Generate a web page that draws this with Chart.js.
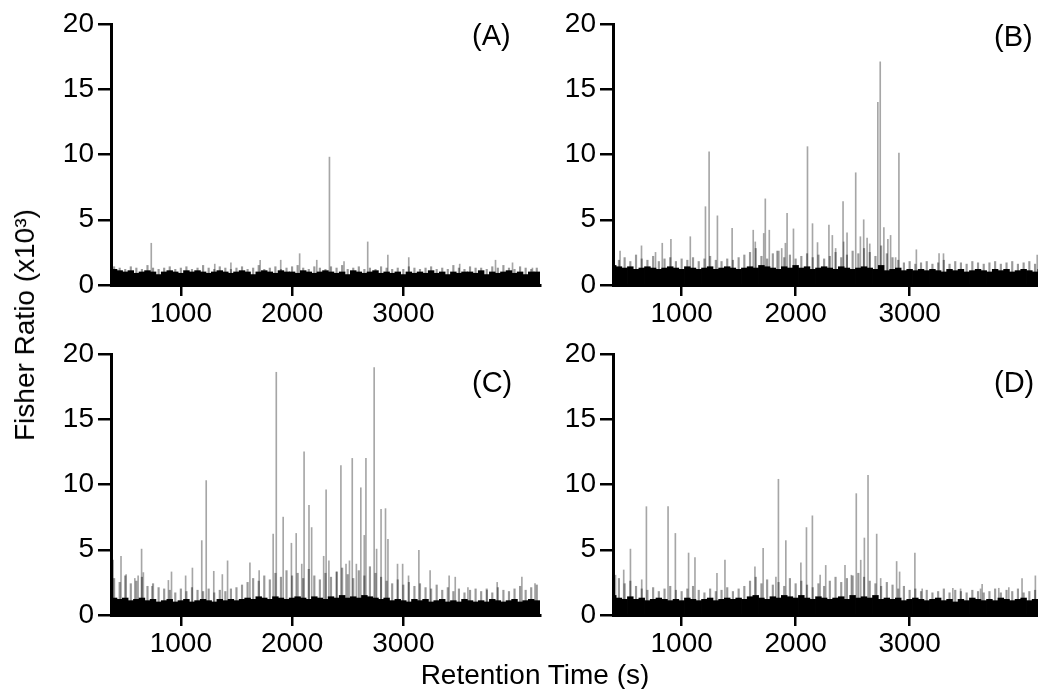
<!DOCTYPE html>
<html>
<head>
<meta charset="utf-8">
<script src="https://cdn.jsdelivr.net/npm/chart.js@4.4.1/dist/chart.umd.min.js"></script>
<style>
    body { margin: 0; width: 1038px; height: 689px; overflow: hidden; background: #fff; position: relative; }
    .panel { position: absolute; }
    .txt { position: absolute; font-family: "Liberation Sans", Arial, sans-serif; color: #000; line-height: 1; white-space: nowrap; }
    .tag { font-size: 29px; }
    .title { font-size: 28px; }
</style>
</head>
<body>
<div class="panel" style="left:0;top:0;width:545px;height:335px"><canvas id="chartA"></canvas></div>
<div class="panel" style="left:502px;top:0;width:541px;height:335px"><canvas id="chartB"></canvas></div>
<div class="panel" style="left:0;top:330px;width:545px;height:335px"><canvas id="chartC"></canvas></div>
<div class="panel" style="left:502px;top:330px;width:541px;height:335px"><canvas id="chartD"></canvas></div>

<div class="txt tag" style="left:472px;top:21px">(A)</div>
<div class="txt tag" style="left:994px;top:22px">(B)</div>
<div class="txt tag" style="left:472px;top:368px">(C)</div>
<div class="txt tag" style="left:994px;top:368px">(D)</div>

<div class="txt title" style="left:535px;top:661px;transform:translateX(-50%)">Retention Time (s)</div>
<div class="txt title" style="left:25px;top:325px;transform:translate(-50%,-50%) rotate(-90deg)">Fisher Ratio (x10³)</div>

<script>
// 軸の目盛り
const xTicks = [1000, 2000, 3000];
const yTicks = [0, 5, 10, 15, 20];

// ベースラインのノイズの時間 (s)
const noiseTimes = [
    400, 450, 500, 550, 600, 650, 700, 750, 800, 850, 900,
    950, 1000, 1050, 1100, 1150, 1200, 1250, 1300, 1350, 1400, 1450,
    1500, 1550, 1600, 1650, 1700, 1750, 1800, 1850, 1900, 1950, 2000,
    2050, 2100, 2150, 2200, 2250, 2300, 2350, 2400, 2450, 2500, 2550,
    2600, 2650, 2700, 2750, 2800, 2850, 2900, 2950, 3000, 3050, 3100,
    3150, 3200, 3250, 3300, 3350, 3400, 3450, 3500, 3550, 3600, 3650,
    3700, 3750, 3800, 3850, 3900, 3950, 4000, 4050, 4100, 4150, 4200,
];

// (A)
const baseA = [
    1.2, 1.1, 1.0, 1.1, 0.9, 1.0, 1.1, 1.0, 0.8, 1.0, 1.1,
    1.0, 0.9, 1.1, 1.0, 1.1, 1.0, 0.9, 1.0, 1.1, 1.0, 0.9,
    1.0, 1.1, 1.0, 0.8, 1.0, 1.1, 1.0, 0.9, 1.1, 1.0, 1.0,
    0.9, 1.1, 1.0, 0.9, 1.0, 1.1, 1.0, 0.9, 1.0, 0.8, 1.1,
    1.0, 0.9, 1.0, 1.1, 0.9, 1.0, 0.9, 1.0, 0.8, 1.0, 0.9,
    1.0, 0.9, 1.1, 0.9, 1.0, 0.8, 1.0, 0.9, 1.0, 1.0, 0.9,
    1.1, 0.8, 1.0, 0.9, 1.0, 1.1, 0.9, 1.0, 0.8, 1.0, 1.0,
];
const fringeA = [
    1.4, 1.3, 1.2, 1.4, 1.3, 1.2, 1.5, 1.3, 1.2, 1.3, 1.4,
    1.2, 1.3, 1.4, 1.2, 1.3, 1.5, 1.3, 1.2, 1.4, 1.3, 1.2,
    1.3, 1.4, 1.2, 1.3, 1.5, 1.2, 1.3, 1.4, 1.2, 1.3, 1.4,
    1.5, 1.3, 1.2, 1.4, 1.3, 1.2, 1.4, 1.3, 1.5, 1.2, 1.3,
    1.4, 1.2, 1.3, 1.2, 1.4, 1.3, 1.2, 1.3, 1.2, 1.4, 1.3,
    1.2, 1.3, 1.4, 1.2, 1.3, 1.2, 1.5, 1.3, 1.2, 1.4, 1.3,
    1.3, 1.2, 1.4, 1.3, 1.5, 1.3, 1.2, 1.4, 1.3, 1.2, 1.3,
];
const peakTimesA = [734, 1305, 1450, 1713, 1898, 2068, 2222, 2336, 2467, 2680, 2861, 3049, 3507, 3829, 3982, 4161];
const peakValuesA = [3.2, 1.6, 1.7, 1.9, 1.9, 2.4, 1.9, 9.8, 1.8, 3.3, 2.3, 2.1, 1.6, 1.9, 1.7, 1.3];

// (B)
const baseB = [
    1.5, 1.4, 1.3, 1.4, 1.2, 1.3, 1.4, 1.3, 1.2, 1.3, 1.4,
    1.3, 1.2, 1.4, 1.3, 1.2, 1.3, 1.4, 1.2, 1.3, 1.4, 1.3,
    1.2, 1.3, 1.4, 1.3, 1.5, 1.4, 1.3, 1.2, 1.4, 1.3, 1.5,
    1.3, 1.4, 1.2, 1.3, 1.4, 1.3, 1.2, 1.4, 1.3, 1.2, 1.3,
    1.4, 1.3, 1.2, 1.5, 1.1, 1.2, 1.3, 1.1, 1.2, 1.1, 1.2,
    1.1, 1.2, 1.1, 1.0, 1.2, 1.1, 1.2, 1.0, 1.1, 1.2, 1.1,
    1.0, 1.2, 1.1, 1.2, 1.0, 1.1, 1.2, 1.1, 1.0, 1.2, 1.1,
];
const fringeB = [
    2.2, 1.9, 2.1, 1.8, 2.3, 2.0, 1.9, 2.2, 1.8, 2.0, 2.1,
    1.8, 2.0, 1.9, 2.1, 1.8, 2.0, 2.2, 1.9, 1.8, 2.0, 1.9,
    2.1, 2.3, 2.5, 2.8, 2.2, 2.0, 2.4, 2.6, 2.1, 2.3, 2.0,
    2.2, 2.4, 2.1, 2.3, 2.0, 2.2, 2.5, 2.1, 2.3, 2.6, 2.4,
    2.8, 2.5, 2.2, 3.0, 2.4, 2.1, 1.9, 1.7, 1.8, 1.6, 1.7,
    1.8, 1.6, 1.7, 1.9, 1.6, 1.8, 1.7, 1.6, 1.8, 1.7, 1.6,
    1.7, 1.8, 1.6, 1.7, 1.8, 1.6, 1.7, 1.8, 1.6, 1.7, 1.8,
];
const peakTimesB = [
    460, 648, 771, 830, 906, 1076, 1209, 1241, 1314, 1443, 1628, 1646, 1720, 1734, 1769,
    1837, 1878, 1910, 1925, 1981, 2104, 2148, 2192, 2292, 2322, 2351, 2416, 2421, 2451,
    2527, 2568, 2597, 2627, 2650, 2721, 2742, 2774, 2809, 2833, 2877, 2906, 3059, 3258,
    3297, 4119,
];
const peakValuesB = [
    2.6, 3.0, 2.5, 3.2, 3.5, 3.7, 6.0, 10.2, 5.3, 4.35, 4.2, 3.3, 3.95, 6.6, 4.2,
    2.6, 2.8, 3.2, 5.5, 4.3, 10.6, 4.7, 3.25, 4.6, 3.8, 2.8, 6.4, 3.3, 4.0,
    8.6, 3.7, 5.0, 3.6, 3.15, 14.0, 17.1, 4.4, 3.5, 3.8, 2.1, 10.1, 2.7, 2.4,
    2.4, 2.3,
];

// (C)
const baseC = [
    1.3, 1.2, 1.3, 1.1, 1.2, 1.3, 1.1, 1.2, 1.0, 1.1, 1.2,
    1.0, 1.1, 1.2, 1.0, 1.1, 1.2, 1.1, 1.0, 1.2, 1.1, 1.2,
    1.1, 1.2, 1.3, 1.2, 1.4, 1.3, 1.2, 1.4, 1.3, 1.2, 1.3,
    1.4, 1.3, 1.2, 1.4, 1.3, 1.2, 1.4, 1.3, 1.5, 1.3, 1.4,
    1.3, 1.5, 1.4, 1.3, 1.2, 1.3, 1.1, 1.2, 1.1, 1.0, 1.2,
    1.1, 1.2, 1.0, 1.1, 1.2, 1.0, 1.1, 1.0, 1.2, 1.1, 1.0,
    1.1, 1.0, 1.2, 1.1, 1.0, 1.1, 1.2, 1.0, 1.1, 1.2, 1.1,
];
const fringeC = [
    2.8, 2.5, 3.0, 2.4, 2.6, 2.9, 2.2, 2.4, 2.1, 2.0, 1.9,
    1.7, 2.0, 1.8, 2.1, 1.9, 1.8, 2.0, 1.7, 1.9, 1.8, 2.0,
    2.1, 2.3, 2.5, 2.8, 2.6, 3.0, 2.7, 3.2, 2.9, 3.4, 3.0,
    3.2, 2.8, 3.5, 3.0, 2.7, 3.2, 2.9, 3.3, 3.6, 3.1, 2.8,
    3.4, 3.0, 3.7, 3.2, 2.9, 2.6, 2.4, 2.7, 2.3, 2.5, 2.2,
    2.4, 2.1, 2.0, 2.3, 1.9, 2.1, 1.8, 2.0, 1.7, 1.9, 2.0,
    1.8, 2.0, 1.7, 2.1, 1.9, 1.8, 2.0, 2.2, 1.9, 2.1, 2.3,
];
const peakTimesC = [
    391, 462, 508, 586, 616, 647, 663, 740, 888, 916, 1043, 1104, 1188, 1228, 1296,
    1373, 1420, 1621, 1704, 1830, 1858, 1920, 1994, 2037, 2087, 2108, 2152, 2176,
    2284, 2306, 2331, 2402, 2439, 2485, 2516, 2541, 2578, 2618, 2649, 2664, 2738,
    2760, 2800, 2840, 2862, 2948, 2994, 3047, 3140, 3241, 3412, 3467, 3581, 3752,
    3844, 4066, 4184,
];
const peakValuesC = [
    4.2, 4.5, 3.1, 2.8, 3.0, 5.05, 3.25, 2.2, 2.65, 3.3, 3.0, 3.6, 5.7, 10.3, 3.35,
    3.1, 4.15, 4.0, 3.4, 6.2, 18.6, 7.5, 5.5, 6.25, 3.9, 12.5, 8.4, 6.7,
    4.5, 9.6, 4.15, 3.3, 11.45, 3.9, 4.15, 12.0, 3.9, 9.75, 6.1, 12.0, 18.95,
    5.05, 8.1, 8.15, 5.8, 3.9, 3.9, 3.0, 4.95, 3.4, 3.0, 2.9, 2.1, 1.9,
    2.5, 2.9, 2.4,
];

// (D)
const baseD = [
    1.5, 1.3, 1.2, 1.4, 1.2, 1.3, 1.1, 1.2, 1.3, 1.2, 1.1,
    1.2, 1.1, 1.3, 1.2, 1.1, 1.2, 1.3, 1.1, 1.2, 1.3, 1.2,
    1.3, 1.2, 1.4, 1.5, 1.3, 1.2, 1.4, 1.3, 1.5, 1.4, 1.3,
    1.5, 1.3, 1.2, 1.4, 1.3, 1.2, 1.3, 1.4, 1.2, 1.5, 1.3,
    1.4, 1.3, 1.5, 1.2, 1.3, 1.2, 1.3, 1.1, 1.2, 1.3, 1.2,
    1.1, 1.2, 1.3, 1.1, 1.2, 1.0, 1.2, 1.1, 1.3, 1.2, 1.1,
    1.2, 1.1, 1.3, 1.2, 1.1, 1.2, 1.3, 1.1, 1.2, 1.1, 1.2,
];
const fringeD = [
    3.0, 2.8, 2.4, 2.6, 2.2, 2.0, 1.9, 2.1, 1.8, 2.0, 2.2,
    1.9, 1.8, 2.0, 2.2, 1.9, 1.7, 2.0, 1.8, 1.9, 2.1, 1.8,
    2.0, 2.2, 2.6, 2.9, 2.4, 2.7, 2.3, 2.5, 2.2, 2.8, 2.4,
    2.6, 2.3, 2.1, 2.4, 2.2, 2.6, 2.9, 2.5, 2.8, 3.0, 3.2,
    2.9, 2.6, 2.4, 2.2, 2.5, 2.3, 2.0, 2.2, 1.9, 2.0, 1.8,
    1.9, 1.7, 1.8, 2.0, 1.7, 1.9, 1.8, 1.7, 1.9, 1.8, 1.7,
    1.8, 2.0, 1.7, 1.9, 1.8, 2.0, 1.7, 1.8, 1.9, 2.1, 1.8,
];
const peakTimesD = [
    420, 492, 551, 650, 691, 881, 945, 1061, 1117, 1310, 1380, 1643, 1715, 1827, 1849,
    1914, 2046, 2095, 2147, 2215, 2264, 2433, 2489, 2532, 2571, 2603, 2635, 2711, 2746,
    2886, 2912, 3046, 3110, 3379, 3447, 3622, 3636, 3782, 3870, 3986, 4103,
];
const peakValuesD = [
    3.05, 3.45, 5.05, 2.7, 8.3, 8.3, 6.25, 4.75, 4.4, 3.2, 4.2, 3.7, 5.1, 2.9, 10.4,
    5.7, 4.0, 6.7, 7.6, 3.05, 3.8, 3.8, 3.05, 9.3, 4.2, 5.9, 10.7, 6.2, 2.8,
    4.1, 3.3, 4.75, 2.0, 2.05, 2.0, 2.0, 2.35, 2.05, 2.1, 2.8, 3.0,
];

const tickFont = { family: "'Liberation Sans', Arial, sans-serif", size: 28 };

function toPoints(xs, ys) {
    return xs.map((x, i) => ({ x: x, y: ys[i] }));
}

function drawPanel(id, xMin, xMax, base, fringe, peakTimes, peakValues) {
    const ctx = document.getElementById(id).getContext("2d");

    new Chart(ctx, {
        type: "bar",
        data: {
            datasets: [
                { data: toPoints(noiseTimes, base), backgroundColor: "#000", barThickness: 5.8, order: 1 },
                { data: toPoints(noiseTimes, fringe), backgroundColor: "rgba(0,0,0,0.4)", barThickness: 1.5, order: 2 },
                { data: toPoints(peakTimes, peakValues), backgroundColor: "rgba(0,0,0,0.35)", barThickness: 1, order: 3 },
            ],
        },
        options: {
            animation: false,
            responsive: true,
            maintainAspectRatio: false,
            devicePixelRatio: 1,
            datasets: { bar: { grouped: false } },
            layout: { padding: { top: 24, right: 5, left: 0, bottom: 0 } },
            plugins: { legend: { display: false }, tooltip: { enabled: false } },
            scales: {
                x: {
                    type: "linear",
                    min: xMin,
                    max: xMax,
                    offset: false,
                    afterBuildTicks: (s) => { s.ticks = xTicks.map((v) => ({ value: v })); },
                    afterFit: (s) => { s.height = 50; },
                    ticks: { color: "#000", font: tickFont, padding: 1, maxRotation: 0, autoSkip: false, callback: (v) => String(v) },
                    grid: { drawOnChartArea: false, drawTicks: true, tickLength: 11, lineWidth: 2.5, color: "#000", offset: false },
                    border: { display: true, width: 3, color: "#000" },
                },
                y: {
                    min: 0,
                    max: 20,
                    afterBuildTicks: (s) => { s.ticks = yTicks.map((v) => ({ value: v })); },
                    afterFit: (s) => { s.width = 111; },
                    ticks: { color: "#000", font: tickFont, padding: 4, callback: (v) => String(v) },
                    grid: { drawOnChartArea: false, drawTicks: true, tickLength: 13, lineWidth: 2.5, color: "#000" },
                    border: { display: true, width: 3, color: "#000" },
                },
            },
        },
    });
}

drawPanel("chartA", 372, 4229, baseA, fringeA, peakTimesA, peakValuesA);
drawPanel("chartB", 398, 4126, baseB, fringeB, peakTimesB, peakValuesB);
drawPanel("chartC", 372, 4229, baseC, fringeC, peakTimesC, peakValuesC);
drawPanel("chartD", 398, 4126, baseD, fringeD, peakTimesD, peakValuesD);
</script>
</body>
</html>
